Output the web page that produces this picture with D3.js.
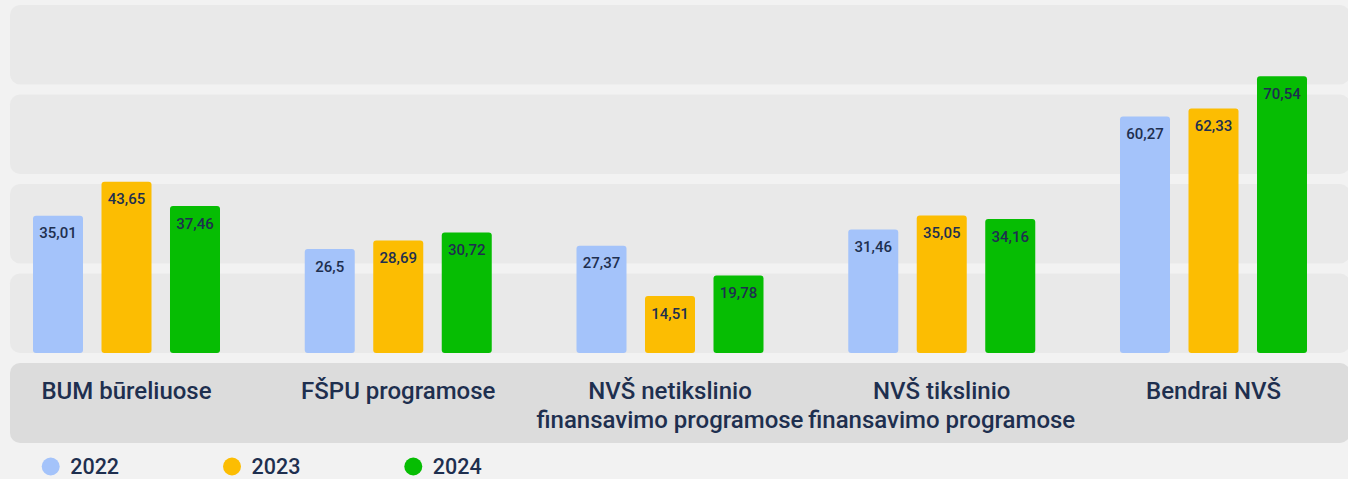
<!DOCTYPE html>
<html>
<head>
<meta charset="utf-8">
<script src="https://cdn.jsdelivr.net/npm/d3@7"></script>
<style>
  html, body { margin: 0; padding: 0; background: #f2f2f2; }
  svg { display: block; }
  text { font-family: Roboto, "Noto Sans", sans-serif; }
</style>
</head>
<body>
<svg id="chart" width="1348" height="479"></svg>
<script>
const categories = [
  "BUM būreliuose",
  "FŠPU programose",
  "NVŠ netikslinio finansavimo programose",
  "NVŠ tikslinio finansavimo programose",
  "Bendrai NVŠ"
];
const years = ["2022", "2023", "2024"];
const values2022 = [35.01, 26.5, 27.37, 31.46, 60.27];
const values2023 = [43.65, 28.69, 14.51, 35.05, 62.33];
const values2024 = [37.46, 30.72, 19.78, 34.16, 70.54];
const seriesValues = [values2022, values2023, values2024];
const colors = ["#a4c3fa", "#fcbd02", "#06bd03"];

const W = 1348, H = 479;
const textColor = "#1e2f4f";
const svg = d3.select("#chart");

const plotTop = 5, plotBottom = 353;
const y = d3.scaleLinear().domain([0, 90]).range([plotBottom, 0]);
const x0 = d3.scalePoint().domain(categories).range([126.5, 1213.5]);
const x1 = d3.scaleBand().domain(years).range([-93.5, 93.5]).paddingInner(0.27).paddingOuter(0);

// background bands
const nBands = 4, bandGap = 10;
const bandH = (plotBottom - plotTop - bandGap * (nBands - 1)) / nBands;
svg.append("g").selectAll("rect").data(d3.range(nBands)).join("rect")
  .attr("x", 10).attr("width", W - 10 + 2)
  .attr("y", i => plotTop + i * (bandH + bandGap))
  .attr("height", bandH)
  .attr("rx", 10)
  .attr("fill", "#e9e9e9");

// category band
svg.append("rect")
  .attr("x", 10).attr("width", W - 10 + 2)
  .attr("y", 363).attr("height", 80)
  .attr("rx", 10)
  .attr("fill", "#dcdcdc");

// bars
const rows = [];
categories.forEach((c, ci) => {
  years.forEach((yr, si) => rows.push({ c, yr, si, v: seriesValues[si][ci] }));
});

const g = svg.append("g");
g.selectAll("rect.bar").data(rows).join("rect")
  .attr("class", "bar")
  .attr("x", d => x0(d.c) + x1(d.yr))
  .attr("width", x1.bandwidth())
  .attr("y", d => y(d.v))
  .attr("height", d => y(0) - y(d.v))
  .attr("rx", 3)
  .attr("fill", d => colors[d.si]);

const fmt = v => String(v).replace(".", ",");
g.selectAll("text.val").data(rows).join("text")
  .attr("class", "val")
  .attr("x", d => x0(d.c) + x1(d.yr) + x1.bandwidth() / 2)
  .attr("y", d => y(d.v) + 22.5)
  .attr("text-anchor", "middle")
  .attr("font-size", 15)
  .attr("font-weight", 500)
  .attr("fill", textColor)
  .text(d => fmt(d.v));

// category labels with wrapping
const maxLabelW = 270;
const labels = svg.append("g");
categories.forEach(c => {
  const t = labels.append("text")
    .attr("x", x0(c)).attr("y", 398.5)
    .attr("text-anchor", "middle")
    .attr("font-size", 24)
    .attr("font-weight", 500)
    .attr("fill", textColor);
  const words = c.split(" ");
  let line = [];
  let tspan = t.append("tspan").attr("x", x0(c)).attr("dy", 0);
  words.forEach(w => {
    line.push(w);
    tspan.text(line.join(" "));
    if (tspan.node().getComputedTextLength() > maxLabelW && line.length > 1) {
      line.pop();
      tspan.text(line.join(" "));
      line = [w];
      tspan = t.append("tspan").attr("x", x0(c)).attr("dy", 29).text(w);
    }
  });
});

// legend
const legend = svg.append("g");
years.forEach((yr, i) => {
  const lx = 50.7 + i * 181.3;
  legend.append("circle").attr("cx", lx).attr("cy", 466.5).attr("r", 9).attr("fill", colors[i]);
  legend.append("text").attr("x", lx + 19.5).attr("y", 473.5)
    .attr("font-size", 21.5).attr("font-weight", 500).attr("fill", textColor).text(yr);
});
</script>
</body>
</html>
